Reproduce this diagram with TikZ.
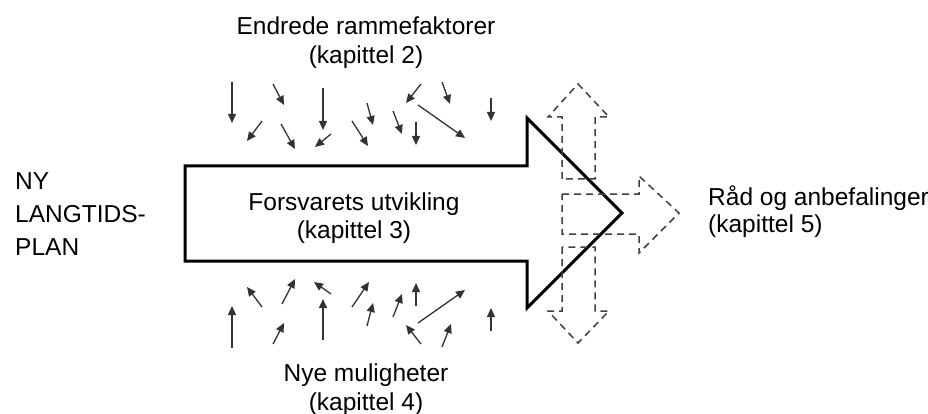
\documentclass[tikz,border=0pt]{standalone}
\usepackage{fontspec}
\setmainfont{Liberation Sans}
\usetikzlibrary{arrows.meta}
\begin{document}
\begin{tikzpicture}[x=1pt,y=-1pt,
  lbl/.style={inner sep=0pt,font=\fontsize{24.5}{28.5}\selectfont},
  bigarrow/.style={draw=black,line width=3pt,line join=miter,fill=white},
  dasharrow/.style={draw=black!75,line width=1.5pt,dash pattern=on 7pt off 5pt},
  sarrow/.style={draw=black!80,line width=1.3pt,-{Triangle[length=9pt,width=8pt]}}
]
\useasboundingbox[fill=white] (0,0) rectangle (928,414);

% big arrow
\draw[bigarrow] (185,166) -- (527,166) -- (527,118) -- (622,213) -- (527,308) -- (527,261) -- (185,261) -- cycle;

% dashed arrows
\draw[dasharrow] (562,179) -- (562,117) -- (548,117) -- (578,84) -- (609,117) -- (595,117) -- (595,179) -- cycle;
\draw[dasharrow] (562,247) -- (562,311) -- (548,311) -- (578,343) -- (609,311) -- (595,311) -- (595,247) -- cycle;
\draw[dasharrow] (562,194) -- (639,194) -- (639,176) -- (679,213) -- (639,253) -- (639,234) -- (562,234) -- cycle;

% small arrows, top
\draw[sarrow] (232,82) -- (232,123);
\draw[sarrow] (273,84) -- (284,105);
\draw[sarrow] (323,88) -- (323,130);
\draw[sarrow] (262,121) -- (247,141);
\draw[sarrow] (281,124) -- (295,149);
\draw[sarrow] (331,134) -- (315,147);
\draw[sarrow] (352,121) -- (368,146);
\draw[sarrow] (367,103) -- (373,125);
\draw[sarrow] (393,111) -- (402,134);
\draw[sarrow] (421,84) -- (406,103);
\draw[sarrow] (416,122) -- (416,145);
\draw[sarrow] (442,82) -- (450,104);
\draw[sarrow] (418,105) -- (465,138);
\draw[sarrow] (491,98) -- (491,121);

% small arrows, bottom
\draw[sarrow] (232,348) -- (232,306);
\draw[sarrow] (262,307) -- (247,287);
\draw[sarrow] (282,304) -- (295,279);
\draw[sarrow] (273,344) -- (284,323);
\draw[sarrow] (323,340) -- (323,299);
\draw[sarrow] (331,294) -- (314,282);
\draw[sarrow] (352,307) -- (369,282);
\draw[sarrow] (367,326) -- (373,303);
\draw[sarrow] (393,317) -- (402,294);
\draw[sarrow] (416,306) -- (416,283);
\draw[sarrow] (418,323) -- (465,290);
\draw[sarrow] (421,344) -- (406,325);
\draw[sarrow] (442,347) -- (451,324);
\draw[sarrow] (491,331) -- (491,308);

% texts
\node[lbl,anchor=base] (top1) at (366,35) {Endrede rammefaktorer};
\node[lbl,anchor=base] (top2) at (366,63.5) {(kapittel 2)};
\node[lbl,anchor=base] (mid1) at (354,210) {Forsvarets utvikling};
\node[lbl,anchor=base] (mid2) at (354,238) {(kapittel 3)};
\node[lbl,anchor=base] (bot1) at (366,381.5) {Nye muligheter};
\node[lbl,anchor=base] (bot2) at (366,410) {(kapittel 4)};
\node[lbl,anchor=base west] (l1) at (15,189.3) {NY};
\node[lbl,anchor=base west] (l2) at (15,222.5) {LANGTIDS-};
\node[lbl,anchor=base west] (l3) at (15,255) {PLAN};
\node[lbl,anchor=base west] (r1) at (708,205) {Råd og anbefalinger};
\node[lbl,anchor=base west] (r2) at (708,232.7) {(kapittel 5)};
\end{tikzpicture}
\end{document}
